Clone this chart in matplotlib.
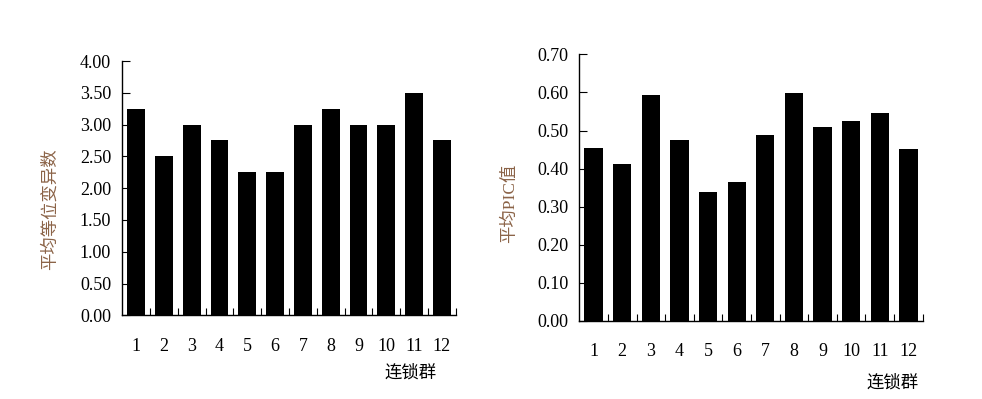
import matplotlib.pyplot as plt
from matplotlib.ticker import MultipleLocator, FixedLocator

# data
groups = ['1', '2', '3', '4', '5', '6', '7', '8', '9', '10', '11', '12']
allele_counts = [3.25, 2.50, 3.00, 2.75, 2.25, 2.25, 3.00, 3.25, 3.00, 3.00, 3.50, 2.75]
pic_values = [0.454, 0.412, 0.593, 0.475, 0.339, 0.365, 0.488, 0.598, 0.509, 0.525, 0.546, 0.451]

serif = ['Liberation Serif', 'Noto Sans CJK SC']
cjk = ['Noto Sans CJK SC', 'DejaVu Sans']
label_color = '#8B6347'

fig = plt.figure(figsize=(9.82, 3.99), dpi=100)
ax1 = fig.add_axes([0.1245, 0.2098, 0.3395, 0.6373])
ax2 = fig.add_axes([0.5899, 0.1955, 0.3497, 0.6684])


def style(ax, values, ymax, step):
    x = list(range(len(values)))
    ax.bar(x, values, width=0.64, color='black')
    ax.set_xlim(-0.5, len(values) - 0.5)
    ax.set_ylim(0, ymax)
    ax.yaxis.set_major_locator(MultipleLocator(step))
    ax.set_yticks(ax.get_yticks())
    ax.set_yticklabels(['%.2f' % v for v in ax.get_yticks()], family=serif, fontsize=13)
    ax.set_ylim(0, ymax)
    ax.set_xticks(x)
    ax.set_xticklabels(groups, family=serif, fontsize=13)
    ax.xaxis.set_minor_locator(FixedLocator([k + 0.5 for k in range(len(values))]))
    ax.tick_params(axis='x', which='major', length=0, pad=16)
    ax.tick_params(axis='x', which='minor', direction='in', length=5, width=0.8)
    ax.tick_params(axis='y', direction='in', length=6, width=0.8, pad=8)
    for side in ['top', 'right']:
        ax.spines[side].set_visible(False)
    for side in ['left', 'bottom']:
        ax.spines[side].set_linewidth(1.0)


style(ax1, allele_counts, 4.0, 0.5)
style(ax2, pic_values, 0.7, 0.1)

fig.text(0.051, 0.476, '平均等位变异数', rotation=90, ha='center', va='center',
         family=cjk, fontsize=12.5, color=label_color)
fig.text(0.519, 0.491, '平均PIC值', rotation=90, ha='center', va='center',
         family=['Liberation Serif', 'Noto Sans CJK SC'], fontsize=12.5, color=label_color)
fig.text(0.418, 0.065, '连锁群', ha='center', va='center', family=cjk, fontsize=12.5)
fig.text(0.909, 0.040, '连锁群', ha='center', va='center', family=cjk, fontsize=12.5)

fig.savefig('out.png', dpi=100)
